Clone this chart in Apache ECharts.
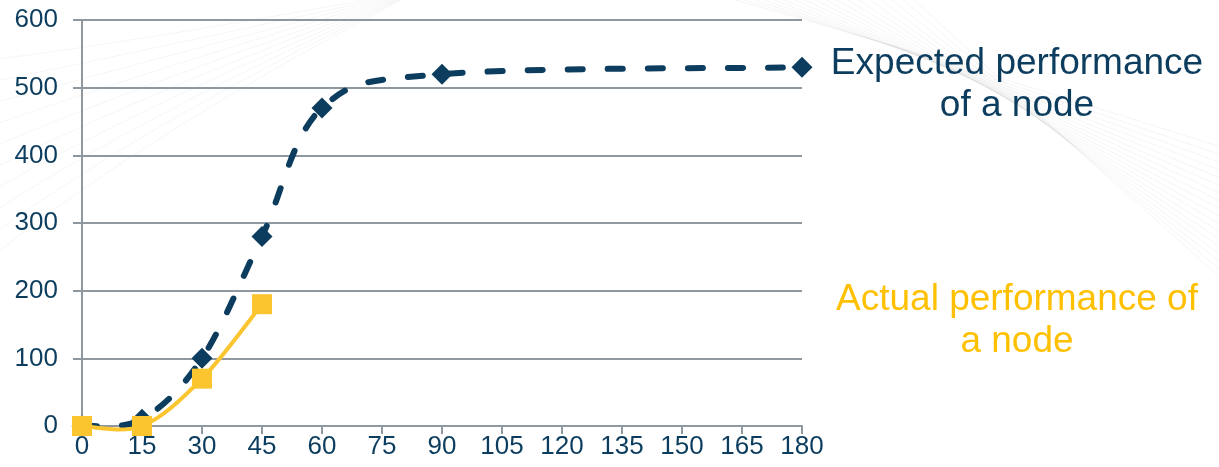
<!DOCTYPE html>
<html>
<head>
<meta charset="utf-8">
<script src="https://cdn.jsdelivr.net/npm/echarts@6/dist/echarts.min.js"></script>
<style>
html,body{margin:0;padding:0;background:#fff;}
#c{width:1219px;height:467px;}
</style>
</head>
<body>
<div id="c"></div>
<script>
const xTicks = [0, 15, 30, 45, 60, 75, 90, 105, 120, 135, 150, 165, 180];
const yTicks = [0, 100, 200, 300, 400, 500, 600];
const expectedX = [0, 15, 30, 45, 60, 90, 180];
const expectedY = [0, 10, 100, 280, 470, 520, 530];
const actualX = [0, 15, 30, 45];
const actualY = [0, 0, 70, 180];
const expectedLabel = ['Expected performance', 'of a node'];
const actualLabel = ['Actual performance of', 'a node'];

const NAVY = '#0c3d5e';
const GOLD = '#fbc52f';
const GOLD_TEXT = '#ffc000';
const GRID = '#8f989f';

const chart = echarts.init(document.getElementById('c'), null, {renderer: 'canvas'});

// Excel-like smoothed line (Catmull-Rom through pixel coords obtained from the axes)
function smoothRenderer(xs, ys, lineStyle) {
  return function (params, api) {
    if (params.dataIndex !== 0) return null;
    const p = xs.map((x, i) => api.coord([x, ys[i]]));
    const n = p.length;
    let d = 'M' + p[0][0] + ' ' + p[0][1];
    for (let i = 0; i < n - 1; i++) {
      const a = p[Math.max(i - 1, 0)], b = p[i], c = p[i + 1], e = p[Math.min(i + 2, n - 1)];
      const c1x = b[0] + (c[0] - a[0]) / 6, c1y = b[1] + (c[1] - a[1]) / 6;
      const c2x = c[0] - (e[0] - b[0]) / 6, c2y = c[1] - (e[1] - b[1]) / 6;
      d += ' C' + c1x + ' ' + c1y + ' ' + c2x + ' ' + c2y + ' ' + c[0] + ' ' + c[1];
    }
    return {type: 'path', shape: {pathData: d}, style: Object.assign({fill: 'none'}, lineStyle), silent: true};
  };
}

// faint decorative background strokes
const deco = [];
for (let i = 0; i < 18; i++) {
  deco.push({
    type: 'bezierCurve', silent: true, z: -10,
    shape: {x1: 700 + i * 12, y1: -10, x2: 1230, y2: 150 + i * 8, cpx1: 950 + i * 6, cpy1: 60 + i * 4},
    style: {stroke: 'rgba(0,0,0,0.045)', lineWidth: 1, fill: null}
  });
}
for (let i = 0; i < 10; i++) {
  deco.push({
    type: 'bezierCurve', silent: true, z: -10,
    shape: {x1: -10, y1: 60 + i * 22, x2: 420, y2: -10, cpx1: 150, cpy1: 40 + i * 10},
    style: {stroke: 'rgba(0,0,0,0.04)', lineWidth: 1, fill: null}
  });
}

const expData = expectedX.map((x, i) => [x, expectedY[i]]);
const actData = actualX.map((x, i) => [x, actualY[i]]);

chart.setOption({
  animation: false,
  backgroundColor: '#ffffff',
  grid: {left: 82, right: 417, top: 20, bottom: 41, containLabel: false},
  xAxis: {
    type: 'value', min: 0, max: 180, interval: 15,
    axisLine: {show: true, lineStyle: {color: GRID, width: 2}},
    axisTick: {show: true, inside: false, length: 8, lineStyle: {color: GRID, width: 2}},
    axisLabel: {color: NAVY, fontSize: 26, fontFamily: 'Liberation Sans, Arial', margin: 8,
      formatter: v => xTicks.includes(v) ? String(v) : ''},
    splitLine: {show: false}
  },
  yAxis: {
    type: 'value', min: 0, max: 600, interval: 100,
    axisLine: {show: true, lineStyle: {color: GRID, width: 2}},
    axisTick: {show: true, inside: false, length: 9, lineStyle: {color: GRID, width: 2}},
    axisLabel: {color: NAVY, fontSize: 26, fontFamily: 'Liberation Sans, Arial', margin: 24,
      formatter: v => yTicks.includes(v) ? String(v) : ''},
    splitLine: {show: true, lineStyle: {color: GRID, width: 2}}
  },
  series: [
    {
      name: 'ExpectedLine', type: 'custom', data: expData, encode: {x: 0, y: 1}, z: 3,
      renderItem: smoothRenderer(expectedX, expectedY, {stroke: NAVY, lineWidth: 6, lineDash: [15, 25], lineCap: 'round'})
    },
    {
      name: 'Expected', type: 'scatter', data: expData,
      symbol: 'diamond', symbolSize: [21, 21],
      itemStyle: {color: NAVY, opacity: 1}, z: 4
    },
    {
      name: 'ActualLine', type: 'custom', data: actData, encode: {x: 0, y: 1}, z: 5,
      renderItem: smoothRenderer(actualX, actualY, {stroke: GOLD, lineWidth: 4, lineCap: 'round'})
    },
    {
      name: 'Actual', type: 'scatter', data: actData,
      symbol: 'rect', symbolSize: [20, 20],
      itemStyle: {color: GOLD, opacity: 1}, z: 6
    }
  ],
  graphic: deco.concat([
    {
      type: 'text', x: 1017, y: 43, silent: true,
      style: {text: expectedLabel.join('\n'), fill: NAVY, font: '37px "Liberation Sans", Arial',
        align: 'center', verticalAlign: 'top', lineHeight: 42}
    },
    {
      type: 'text', x: 1017, y: 279, silent: true,
      style: {text: actualLabel.join('\n'), fill: GOLD_TEXT, font: '37px "Liberation Sans", Arial',
        align: 'center', verticalAlign: 'top', lineHeight: 42}
    }
  ])
});
</script>
</body>
</html>
